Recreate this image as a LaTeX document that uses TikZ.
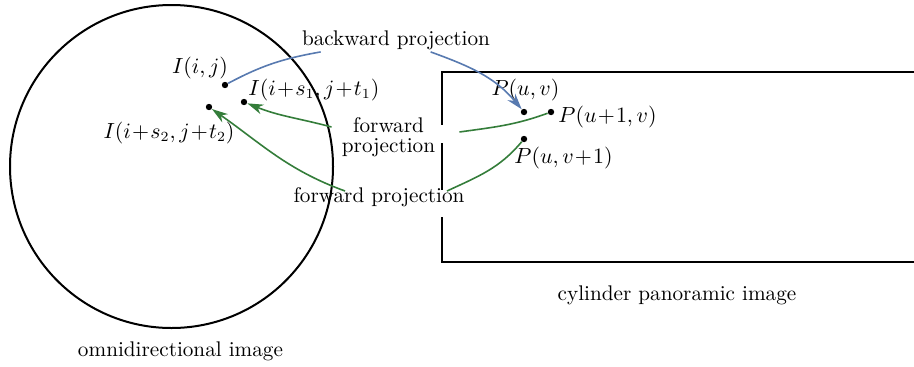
\documentclass[tikz,border=0pt]{standalone}
\usetikzlibrary{arrows.meta}
\definecolor{BwdBlue}{RGB}{88,122,176}
\definecolor{FwdGreen}{RGB}{52,125,58}
\tikzset{
    dotpt/.style={circle,fill=black,inner sep=0pt,minimum size=3.2pt},
    lbl/.style={inner sep=1pt,font=\fontsize{10.6}{10}\selectfont},
    bwdline/.style={draw=BwdBlue,line width=0.8pt},
    fwdline/.style={draw=FwdGreen,line width=0.8pt},
    projarrow/.style={-{Stealth[length=8pt,width=5pt,inset=2.5pt]}}
}

\begin{document}
\begin{tikzpicture}[x=0.5pt,y=0.5pt]

\useasboundingbox (0,0) rectangle (914,366);

% =====================================================
% OMNIDIRECTIONAL IMAGE
% =====================================================
\draw[line width=1pt] (171.5,199.5) circle (161.5);
\node[lbl] (omni) at (180.5,15) {omnidirectional image};

% =====================================================
% CYLINDER PANORAMIC IMAGE
% The left edge is broken where the labels cross it.
% =====================================================
\draw[line width=1pt] (914,294) -- (442,294) -- (442,241);
\draw[line width=1pt] (442,223) -- (442,176);
\draw[line width=1pt] (442,149) -- (442,104) -- (914,104);
\node[lbl] (cyl) at (677,71) {cylinder panoramic image};

% =====================================================
% PIXEL POINTS
% =====================================================
\node[dotpt] (ij)  at (225,281) {};
\node[dotpt] (is1) at (244,264) {};
\node[dotpt] (is2) at (209,259) {};

\node[lbl] (ijtxt) at (200,298) {$I(i,j)$};
\node[lbl,anchor=west] (is1txt) at (246,276) {$I(i\!+\!s_1,j\!+\!t_1)$};
\node[lbl] (is2txt) at (169,233) {$I(i\!+\!s_2,j\!+\!t_2)$};

\node[dotpt] (puv) at (524,254) {};
\node[dotpt] (pu1) at (551,254) {};
\node[dotpt] (pv1) at (524,227) {};

\node[lbl] (puvtxt) at (525.5,276) {$P(u,v)$};
\node[lbl,anchor=west] (pu1txt) at (556,249) {$P(u\!+\!1,v)$};
\node[lbl,anchor=west] (pv1txt) at (512,208) {$P(u,v\!+\!1)$};

% =====================================================
% PROJECTION LABELS AND CONNECTORS
% =====================================================
\node[lbl] (bwd) at (396,326) {backward projection};
\node[lbl,align=center] (fwdA) at (388.5,229) {forward\\projection};
\node[lbl] (fwdB) at (379,169) {forward projection};

% backward: omnidirectional -> panoramic
\draw[bwdline] (ij) to[out=28,in=190] (bwd.189);
\draw[bwdline,projarrow] (bwd.-19) to[out=-20,in=130] (puv);

% forward: panoramic -> omnidirectional
\draw[fwdline,projarrow] ([shift={(-4pt,5pt)}]fwdA.west) to[out=165,in=-22] (is1);
\draw[fwdline] ([shift={(11pt,2.5pt)}]fwdA.east) to[out=8,in=200] (pu1);

\draw[fwdline,projarrow] ([shift={(-17pt,3pt)}]fwdB.center) to[out=160,in=-35] (is2);
\draw[fwdline] ([shift={(34pt,3pt)}]fwdB.center) to[out=25,in=230] (pv1);

\end{tikzpicture}
\end{document}
